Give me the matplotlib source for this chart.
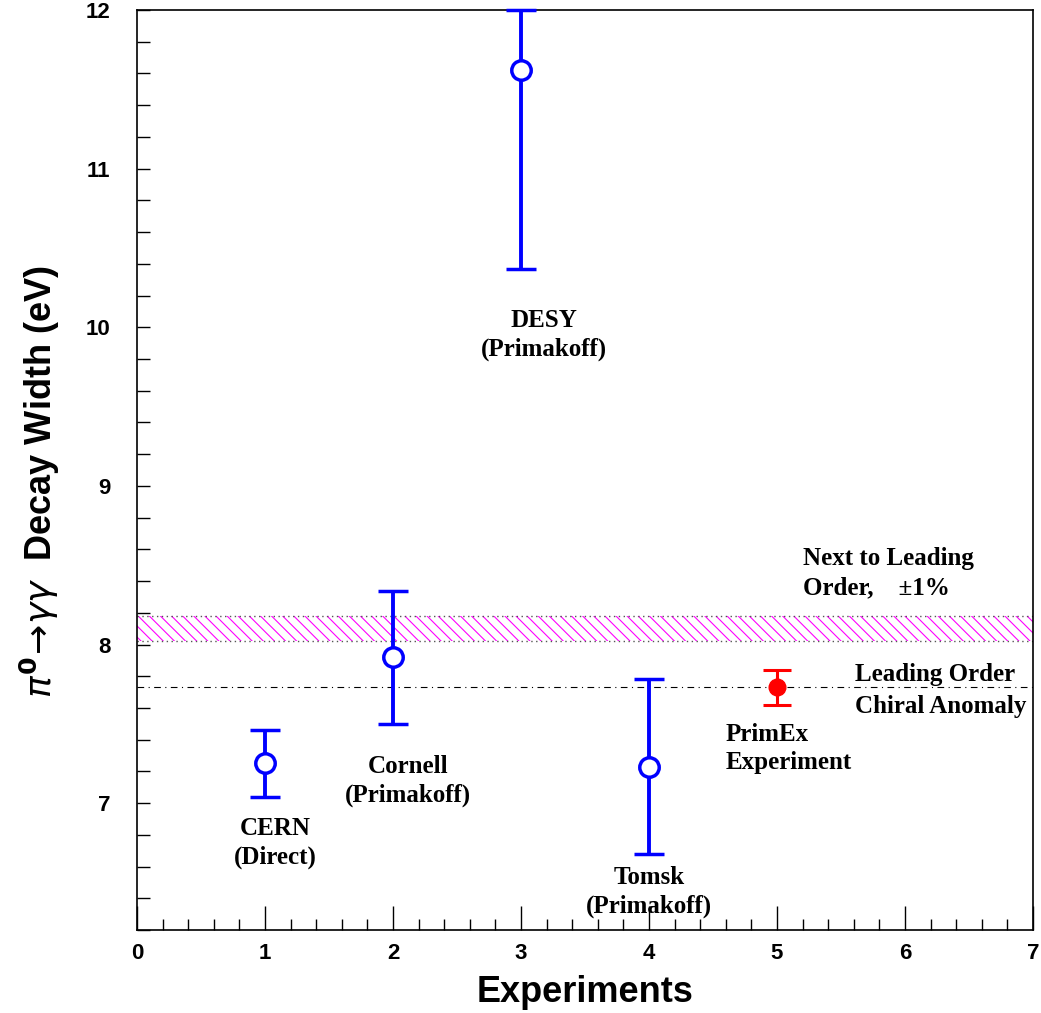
import numpy as np
import matplotlib
matplotlib.use("Agg")
import matplotlib.pyplot as plt
from matplotlib.ticker import MultipleLocator

# ---- data ----
exp_x = [1, 2, 3, 4]
exp_val = [7.25, 7.92, 11.62, 7.23]
exp_err_lo = [0.21, 0.42, 1.25, 0.55]
exp_err_hi = [0.21, 0.42, 0.38, 0.55]

primex_x = [5]
primex_val = [7.73]
primex_err = [0.11]

lo_anomaly = 7.73          # leading order chiral anomaly
nlo_band = (8.02, 8.18)     # next to leading order +-1%

labels = ["CERN\n(Direct)", "Cornell\n(Primakoff)", "DESY\n(Primakoff)",
          "Tomsk\n(Primakoff)"]
label_x = [1.08, 2.12, 3.18, 4.0]
label_y = [6.75, 7.14, 9.95, 6.44]

SERIF = "Liberation Serif"
SANS = "Liberation Sans"

fig = plt.figure(figsize=(10.41, 10.13), dpi=100)
ax = fig.add_axes([0.1316, 0.0819, 0.8607, 0.9082])

plt.rcParams["hatch.linewidth"] = 0.8
ax.fill_between([0, 7], nlo_band[0], nlo_band[1], facecolor="none",
                edgecolor="#ff00ff", hatch="\\\\\\", linewidth=0, zorder=1)
for yb in nlo_band:
    ax.axhline(yb, color="#555555", lw=1.0, ls=(0, (1, 2.5)), zorder=1)
ax.axhline(lo_anomaly, color="black", lw=0.8, ls=(0, (6, 4, 1, 4)), zorder=1)

ax.errorbar(exp_x, exp_val, yerr=[exp_err_lo, exp_err_hi], fmt="o",
            color="blue", mfc="white", mec="blue", ms=14, mew=2.5,
            elinewidth=2.8, capsize=11, capthick=2.8, zorder=3, clip_on=False)
ax.errorbar(primex_x, primex_val, yerr=primex_err, fmt="o", color="red",
            mfc="red", mec="red", ms=12, elinewidth=2.2, capsize=10,
            capthick=2.2, zorder=3)

tkw = dict(fontfamily=SERIF, fontweight="bold", fontsize=18, linespacing=1.3)
for lx, ly, s in zip(label_x, label_y, labels):
    ax.text(lx, ly, s, ha="center", va="center", **tkw)
ax.text(4.6, 7.345, "PrimEx\nExperiment", ha="left", va="center", **tkw)
ax.text(5.2, 8.45, "Next to Leading\nOrder,    \u00b11%", ha="left",
        va="center", **tkw)
ax.text(5.61, 7.71, "Leading Order\nChiral Anomaly", ha="left",
        va="center", fontfamily=SERIF, fontweight="bold", fontsize=18,
        linespacing=1.45)

ax.set_xlim(0, 7)
ax.set_ylim(6.2, 12)
ax.xaxis.set_major_locator(MultipleLocator(1))
ax.xaxis.set_minor_locator(MultipleLocator(0.2))
ax.yaxis.set_major_locator(MultipleLocator(1))
ax.yaxis.set_minor_locator(MultipleLocator(0.2))
ax.tick_params(axis="x", which="major", direction="in", length=17, width=1,
               pad=9, labelsize=16)
ax.tick_params(axis="x", which="minor", direction="in", length=8, width=1)
ax.tick_params(axis="y", which="both", direction="in", length=9, width=1,
               pad=19, labelsize=16)
for lab in ax.get_xticklabels() + ax.get_yticklabels():
    lab.set_fontfamily(SANS)
    lab.set_fontweight("bold")
for sp in ax.spines.values():
    sp.set_linewidth(1.2)

ax.set_xlabel("Experiments", fontfamily=SANS, fontweight="bold",
              fontsize=26, labelpad=8)
ax.set_ylabel(r"$\pi^{\mathbf{0}}\!\rightarrow\!\gamma\gamma$  Decay Width (eV)",
              fontfamily=SANS, fontweight="bold", fontsize=26)
ax.yaxis.set_label_coords(-0.084, 0.487)

plt.savefig("out.png", dpi=100)
plt.close()
